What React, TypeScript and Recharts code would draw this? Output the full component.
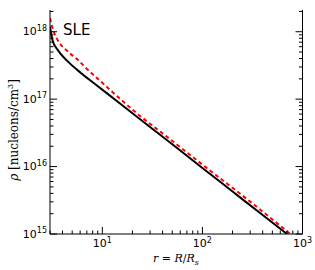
import { LineChart, Line, XAxis, YAxis } from 'recharts';

// SLE density profile, black = model, red dashed = fit
const rModel = [3.0, 3.17, 3.56, 4.49, 6.1, 8.32, 10.9, 20, 50, 100, 200, 400, 701];
const rhoModel = [1.2e18, 7.6e17, 5.43e17, 3.66e17, 2.45e17, 1.71e17, 1.25e17, 6.17e16, 2.14e16, 9.55e15, 4.27e15, 1.91e15, 1.0e15];

const rFit = [3.0, 3.17, 3.56, 4.49, 5.65, 7.12, 9.68, 14, 20, 50, 100, 300, 757];
const rhoFit = [1.6e18, 1.15e18, 7.64e17, 5.14e17, 3.86e17, 2.75e17, 1.82e17, 1.11e17, 7.0e16, 2.4e16, 1.07e16, 3.02e15, 1.0e15];

const X_MAJOR = [10, 100, 1000];
const X_TICKS = [3, 4, 5, 6, 7, 8, 9, 10, 20, 30, 40, 50, 60, 70, 80, 90, 100, 200, 300, 400, 500, 600, 700, 800, 900, 1000];
const Y_MAJOR = [1e15, 1e16, 1e17, 1e18];
const Y_TICKS = [
  1e15, 2e15, 3e15, 4e15, 5e15, 6e15, 7e15, 8e15, 9e15,
  1e16, 2e16, 3e16, 4e16, 5e16, 6e16, 7e16, 8e16, 9e16,
  1e17, 2e17, 3e17, 4e17, 5e17, 6e17, 7e17, 8e17, 9e17,
  1e18, 2e18,
];

const modelData = rModel.map((r, i) => ({ r, rho: rhoModel[i] }));
const fitData = rFit.map((r, i) => ({ r, rho: rhoFit[i] }));

const SANS = 'DejaVu Sans';
const SERIF = 'DejaVu Serif';
const MAJ = 7;
const MIN = 3.5;

const exp10 = (v: number) => Math.round(Math.log10(v));
const isMajor = (list: number[], v: number) => list.some(m => Math.abs(m - v) / m < 1e-6);

function BottomTick({ x, y, payload }: any) {
  const major = isMajor(X_MAJOR, payload.value);
  return (
    <g>
      <line x1={x} x2={x} y1={y} y2={y - (major ? MAJ : MIN)} stroke="#000" strokeWidth={1} />
      {major && (
        <text x={x} y={y + 13} textAnchor="middle" fontSize={11} fontFamily={SANS} fill="#000">
          10<tspan dy={-4.5} fontSize={8}>{exp10(payload.value)}</tspan>
        </text>
      )}
    </g>
  );
}

function TopTick({ x, y, payload }: any) {
  const major = isMajor(X_MAJOR, payload.value);
  return <line x1={x} x2={x} y1={y} y2={y + (major ? MAJ : MIN)} stroke="#000" strokeWidth={1} />;
}

function LeftTick({ x, y, payload }: any) {
  const major = isMajor(Y_MAJOR, payload.value);
  return (
    <g>
      <line x1={x} x2={x + (major ? MAJ : MIN)} y1={y} y2={y} stroke="#000" strokeWidth={1} />
      {major && (
        <text x={x - 3} y={y + 3.5} textAnchor="end" fontSize={11} fontFamily={SANS} fill="#000">
          10<tspan dy={-4.5} fontSize={8}>{exp10(payload.value)}</tspan>
        </text>
      )}
    </g>
  );
}

function RightTick({ x, y, payload }: any) {
  const major = isMajor(Y_MAJOR, payload.value);
  return <line x1={x} x2={x - (major ? MAJ : MIN)} y1={y} y2={y} stroke="#000" strokeWidth={1} />;
}

export default function App() {
  return (
    <div style={{ position: 'absolute', left: 0, top: 0, width: 315, height: 270, background: '#fff' }}>
      <LineChart width={315} height={270} margin={{ top: 10, right: 0, bottom: 0, left: 0 }}>
        <XAxis
          xAxisId="b" dataKey="r" type="number" scale="log" domain={[3, 1000]} allowDataOverflow
          ticks={X_TICKS} interval={0} tickSize={0} tickMargin={0} height={36}
          axisLine={{ stroke: '#000', strokeWidth: 1 }} tick={<BottomTick />}
        />
        <XAxis
          xAxisId="t" orientation="top" dataKey="r" type="number" scale="log" domain={[3, 1000]} allowDataOverflow
          ticks={X_TICKS} interval={0} tickSize={0} tickMargin={0} height={0}
          axisLine={{ stroke: '#000', strokeWidth: 1 }} tick={<TopTick />}
        />
        <YAxis
          yAxisId="l" dataKey="rho" type="number" scale="log" domain={[1e15, 2.1e18]} allowDataOverflow
          ticks={Y_TICKS} interval={0} tickSize={0} tickMargin={0} width={50}
          axisLine={{ stroke: '#000', strokeWidth: 1 }} tick={<LeftTick />}
        />
        <YAxis
          yAxisId="r" orientation="right" dataKey="rho" type="number" scale="log" domain={[1e15, 2.1e18]} allowDataOverflow
          ticks={Y_TICKS} interval={0} tickSize={0} tickMargin={0} width={12.5}
          axisLine={{ stroke: '#000', strokeWidth: 1 }} tick={<RightTick />}
        />
        <Line xAxisId="t" yAxisId="r" data={modelData} dataKey="rho" stroke="none" dot={false} isAnimationActive={false} />
        <Line xAxisId="b" yAxisId="l" data={modelData} dataKey="rho" type="monotone" stroke="#000" strokeWidth={2} dot={false} isAnimationActive={false} />
        <Line xAxisId="b" yAxisId="l" data={fitData} dataKey="rho" type="monotone" stroke="#ff0000" strokeWidth={2} strokeDasharray="4 3" dot={false} isAnimationActive={false} />
        <text x={63} y={35} fontSize={15} fontFamily={SANS} fill="#000">SLE</text>
        <text x={13.5} y={130} transform="rotate(-90 13.5 130)" dy={4} textAnchor="middle" fontSize={12} fontFamily={SERIF} fill="#000">
          <tspan fontStyle="italic">ρ</tspan> [nucleons/cm<tspan dy={-5} fontSize={8}>3</tspan><tspan dy={5}>]</tspan>
        </text>
        <text x={176} y={262} textAnchor="middle" fontSize={11} fontFamily={SERIF} fill="#000">
          <tspan fontStyle="italic">r</tspan> = <tspan fontStyle="italic">R</tspan>/<tspan fontStyle="italic">R</tspan><tspan dy={2.5} fontSize={8} fontStyle="italic">s</tspan>
        </text>
      </LineChart>
    </div>
  );
}
